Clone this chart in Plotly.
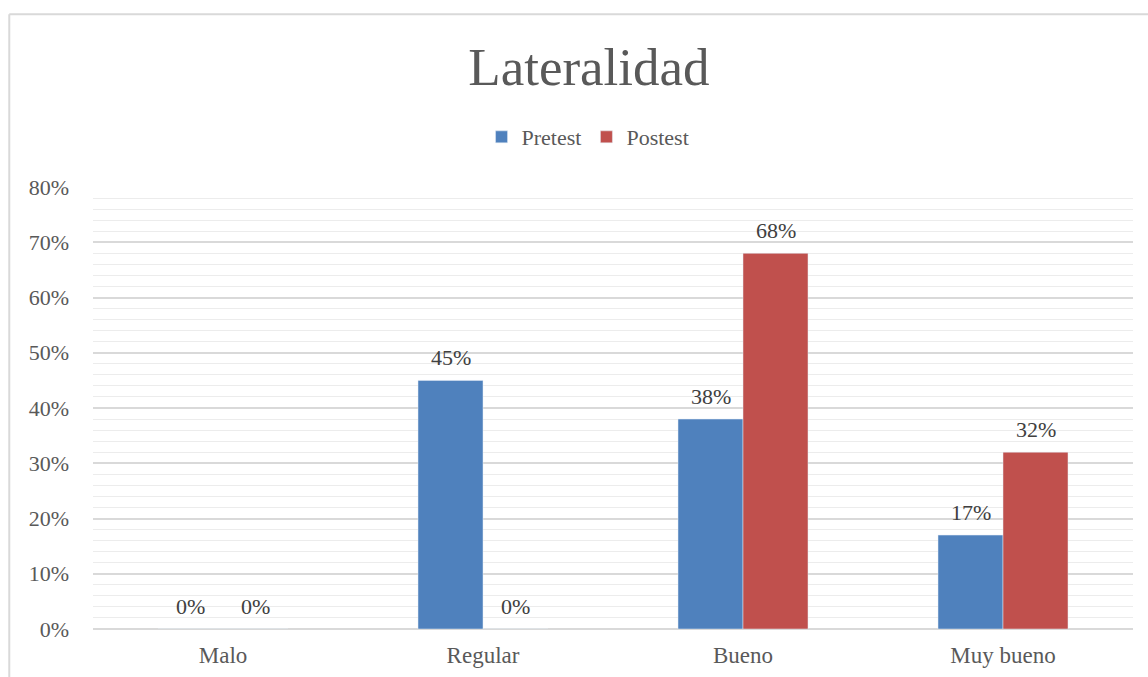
import plotly.graph_objects as go

categories = ["Malo", "Regular", "Bueno", "Muy bueno"]
pretest = [0.00, 0.45, 0.38, 0.17]
postest = [0.00, 0.00, 0.68, 0.32]
tick_vals = [0, 0.1, 0.2, 0.3, 0.4, 0.5, 0.6, 0.7, 0.8]
tick_text = ["0%", "10%", "20%", "30%", "40%", "50%", "60%", "70%", "80%"]

font_family = "Liberation Serif, Times New Roman, serif"
label_color = "#404040"

fig = go.Figure()
fig.add_trace(go.Bar(
    name="Pretest", x=categories, y=pretest, marker_color="#4F81BD",
    offsetgroup="pre",
))
fig.add_trace(go.Bar(
    name="Postest", x=categories, y=postest, marker_color="#C0504D",
    offsetgroup="post",
))

# data labels above bars (offset by quarter category width per series)
for vals, dx in ((pretest, -0.125), (postest, 0.125)):
    for i, v in enumerate(vals):
        fig.add_annotation(
            x=i + dx, y=v, xref="x", yref="y", text=f"{v:.0%}",
            showarrow=False, yanchor="bottom", yshift=8,
            font=dict(size=22, color=label_color, family=font_family),
        )

fig.update_layout(
    width=1148, height=677,
    margin=dict(l=93, r=15, t=187, b=48),
    paper_bgcolor="white", plot_bgcolor="white",
    font=dict(family=font_family, color="#595959", size=22),
    title=dict(text="Lateralidad", x=0.513, xanchor="center", y=0.902, yanchor="middle",
               font=dict(size=53, color="#595959", family=font_family)),
    legend=dict(orientation="h", x=0.476, xanchor="center", y=1.113, yanchor="middle",
                font=dict(size=22, color="#595959", family=font_family),
                itemwidth=30, tracegroupgap=0),
    barmode="group", bargap=0.5, bargroupgap=0,
    showlegend=True,
)
fig.update_xaxes(showgrid=False, showline=False, ticks="", automargin=False,
                 tickfont=dict(size=23, color="#595959"), ticklabelstandoff=10)
fig.update_yaxes(range=[0, 0.8], tickvals=tick_vals, ticktext=tick_text, automargin=False,
                 showgrid=True, gridcolor="#d9d9d9", gridwidth=1.5,
                 zeroline=True, zerolinecolor="#d9d9d9", zerolinewidth=1.5,
                 minor=dict(dtick=0.02, showgrid=True, gridcolor="#ececec", gridwidth=1.2),
                 tickfont=dict(size=22, color="#595959"), ticklabelstandoff=23)

# chart area border (light gray)
fig.add_shape(type="line", xref="paper", yref="paper", x0=-0.0805, x1=1.02, y0=1.391, y1=1.391,
              line=dict(color="#d9d9d9", width=2))
fig.add_shape(type="line", xref="paper", yref="paper", x0=-0.0805, x1=-0.0805, y0=-0.2, y1=1.391,
              line=dict(color="#d9d9d9", width=2))

fig.write_html("out.html")
